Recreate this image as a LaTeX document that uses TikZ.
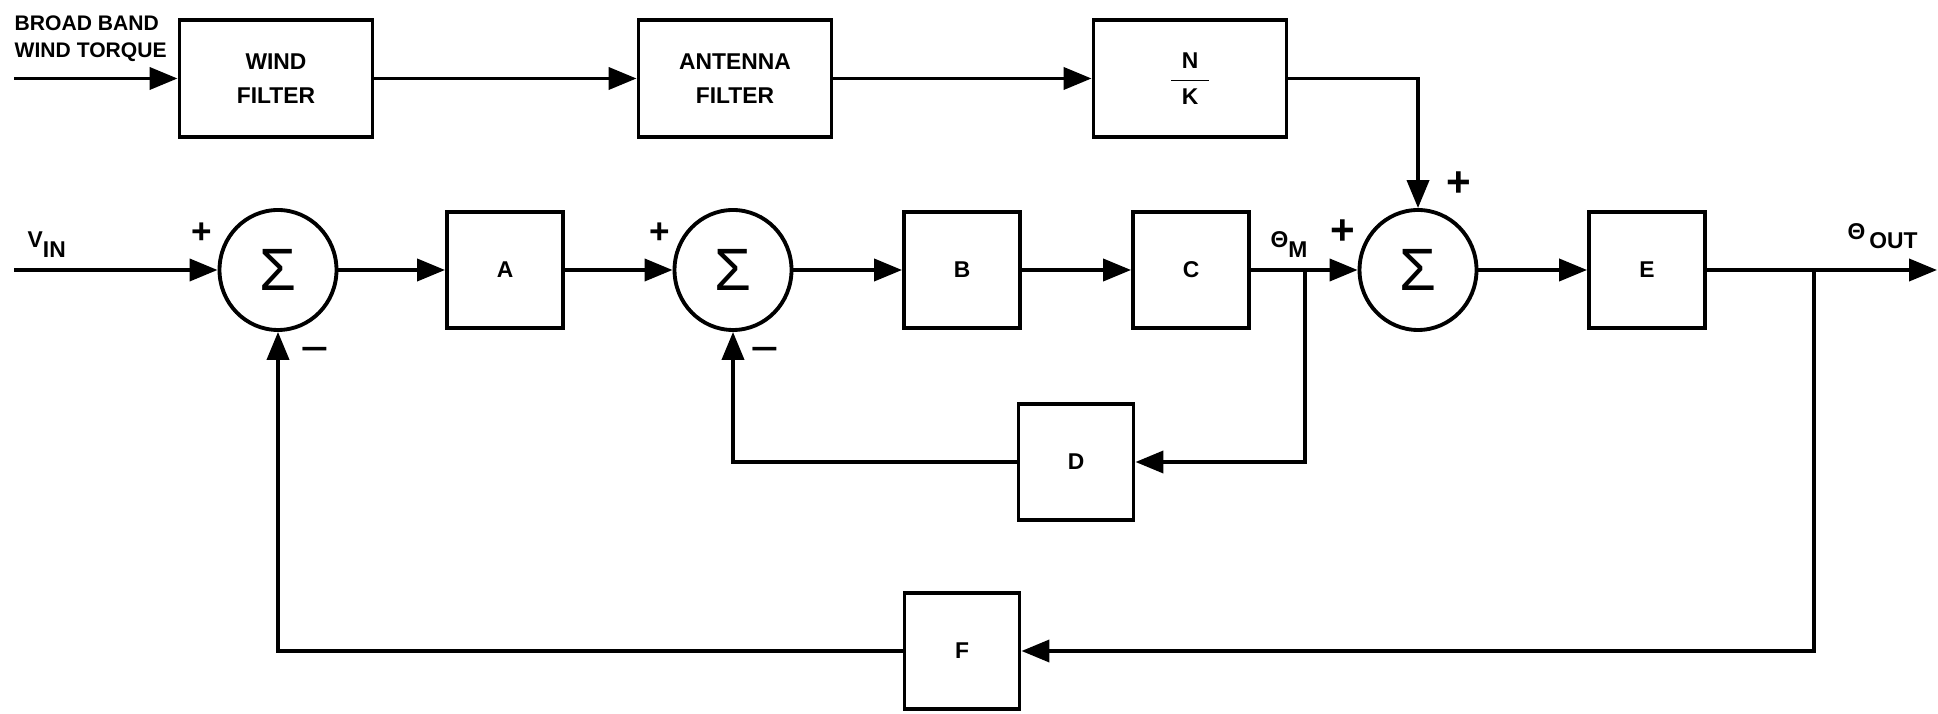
\documentclass[tikz,border=0pt]{standalone}
\usepackage{fontspec}
\setmainfont{Liberation Sans}
\usetikzlibrary{arrows.meta,calc,positioning,shapes.geometric}
\tikzset{
  blk/.style={draw,line width=1.1pt,minimum width=1.16cm,minimum height=1.16cm,inner sep=0pt},
  wideblk/.style={blk,minimum width=1.93cm,minimum height=1.17cm,align=center},
  sumj/.style={ellipse,draw,line width=1.1pt,minimum width=1.17cm,minimum height=1.2cm,inner sep=0pt,
    font=\fontsize{17}{17}\selectfont},
  flow/.style={-{Triangle[length=0.28cm,width=0.22cm]},line width=1.1pt},
  sign/.style={inner sep=0pt,font=\bfseries\fontsize{10}{10}\selectfont},
  minus/.style={inner sep=0pt,font=\fontsize{14}{14}\selectfont},
  lbl/.style={inner sep=0pt},
  every node/.style={font=\bfseries\fontsize{6.5}{9.7}\selectfont}
}

\begin{document}
\begin{tikzpicture}
\useasboundingbox (0,0) rectangle (19.38,-7.14);
% wind disturbance path
\coordinate (wsrc) at (0.14,-0.785);
\node[wideblk] (wind) at (2.76,-0.785) {WIND\\FILTER};
\node[wideblk] (ant) at (7.35,-0.785) {ANTENNA\\FILTER};
\node[wideblk] (nk) at (11.90,-0.785) {$\displaystyle\frac{\hbox to 0.38cm{\hss N\hss}}{\hbox to 0.38cm{\hss K\hss}}$};
\node[lbl,anchor=north west,align=left,font=\bfseries\fontsize{6}{7.7}\selectfont] (lbwind) at (0.14,-0.15) {BROAD BAND\\WIND TORQUE};

% forward path
\coordinate (vin) at (0.14,-2.70);
\node[sumj] (sum1) at (2.78,-2.70) {Σ};
\node[blk] (a) at (5.05,-2.70) {A};
\node[sumj] (sum2) at (7.33,-2.70) {Σ};
\node[blk] (b) at (9.62,-2.70) {B};
\node[blk] (c) at (11.91,-2.70) {C};
\node[sumj] (sum3) at (14.18,-2.70) {Σ};
\node[blk] (e) at (16.47,-2.70) {E};
\coordinate (tm) at (13.05,-2.70);
\coordinate (to) at (18.14,-2.70);
\coordinate (out) at (19.37,-2.70);

% feedback blocks
\node[blk,minimum width=1.15cm] (d) at (10.76,-4.62) {D};
\node[blk,minimum width=1.15cm] (f) at (9.62,-6.51) {F};

% labels
\node[lbl,anchor=base west] (lbvin) at (0.27,-2.48) {V\raisebox{-2.8pt}{IN}};
\node[lbl,anchor=base west] (lbtm) at (12.70,-2.48) {Θ\raisebox{-2.6pt}{M}};
\node[lbl,anchor=base west] (lbto) at (18.47,-2.40) {Θ\,\raisebox{-2.3pt}{OUT}};
\node[sign] (p1) at (2.02,-2.33) {+};
\node[sign] (p2) at (6.60,-2.33) {+};
\node[sign,font=\bfseries\fontsize{12}{12}\selectfont] (p3) at (13.43,-2.32) {+};
\node[sign,font=\bfseries\fontsize{12}{12}\selectfont] (p4) at (14.59,-1.84) {+};
\node[minus] (m1) at (3.15,-3.56) {−};
\node[minus] (m2) at (7.65,-3.56) {−};

% connections
\draw[flow] (wsrc) -- (wind);
\draw[flow] (wind) -- (ant);
\draw[flow] (ant) -- (nk);
\draw[flow] (nk.east) -| (sum3.north);
\draw[flow] (vin) -- (sum1);
\draw[flow] (sum1) -- (a);
\draw[flow] (a) -- (sum2);
\draw[flow] (sum2) -- (b);
\draw[flow] (b) -- (c);
\draw[flow] (c) -- (sum3);
\draw[flow] (sum3) -- (e);
\draw[flow] (e) -- (out);
\draw[flow] (tm) |- (d.east);
\draw[flow] (d.west) -| (sum2.south);
\draw[flow] (to) |- (f.east);
\draw[flow] (f.west) -| (sum1.south);
\end{tikzpicture}
\end{document}
